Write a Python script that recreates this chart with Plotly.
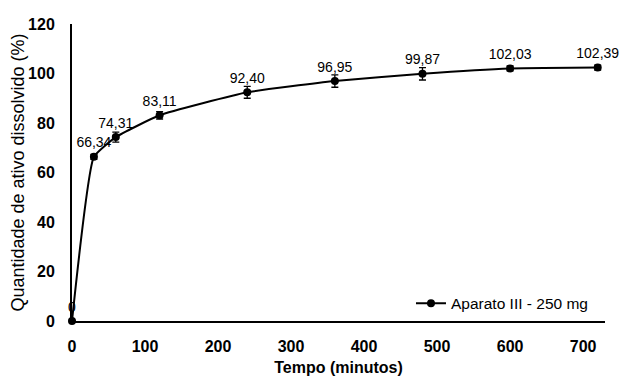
import plotly.graph_objects as go

tempo = [0, 30, 60, 120, 240, 360, 480, 600, 720]
dissolvido = [0, 66.34, 74.31, 83.11, 92.40, 96.95, 99.87, 102.03, 102.39]
erro = [0, 1.0, 2.0, 1.5, 2.4, 2.5, 2.5, 1.0, 1.0]
rotulos = ["0", "66,34", "74,31", "83,11", "92,40", "96,95", "99,87", "102,03", "102,39"]
x_ticks = [0, 100, 200, 300, 400, 500, 600, 700]
y_ticks = [0, 20, 40, 60, 80, 100, 120]

FONT = "Liberation Sans, Arial, sans-serif"

fig = go.Figure()
fig.add_trace(go.Scatter(
    x=tempo, y=dissolvido,
    mode="lines+markers+text",
    name="Aparato III - 250 mg",
    line=dict(color="black", width=2, shape="spline", smoothing=0.4),
    marker=dict(color="black", size=8),
    error_y=dict(type="data", array=erro, visible=True, color="black", thickness=1.3, width=3.5),
    text=rotulos,
    textposition="top center",
    textfont=dict(family=FONT, size=14, color="black"),
    cliponaxis=False,
))

fig.update_layout(
    width=629, height=383,
    margin=dict(l=64, r=32, t=16, b=70),
    paper_bgcolor="white", plot_bgcolor="white",
    font=dict(family=FONT, color="black"),
    showlegend=True,
    legend=dict(x=0.636, y=0.058, xanchor="left", yanchor="middle",
                bgcolor="rgba(0,0,0,0)",
                font=dict(size=15.5, family=FONT, color="black")),
    xaxis=dict(
        range=[0, 730], tickvals=x_ticks, showgrid=False, zeroline=False,
        showline=True, linecolor="black", linewidth=2, ticks="",
        ticklabelstandoff=10, automargin=False,
        tickfont=dict(size=16, family=FONT, color="black", weight="bold"),
        title=dict(text="Tempo (minutos)", font=dict(size=16, family=FONT, weight="bold"), standoff=8),
    ),
    yaxis=dict(
        range=[0, 120], tickvals=y_ticks, showgrid=False, zeroline=False,
        showline=True, linecolor="black", linewidth=2, ticks="",
        ticklabelstandoff=12, automargin=False,
        tickfont=dict(size=16, family=FONT, color="black", weight="bold"),
        title=dict(text="Quantidade de ativo dissolvido (%)", font=dict(size=18, family=FONT), standoff=6),
    ),
)

fig.write_html("out.html")
